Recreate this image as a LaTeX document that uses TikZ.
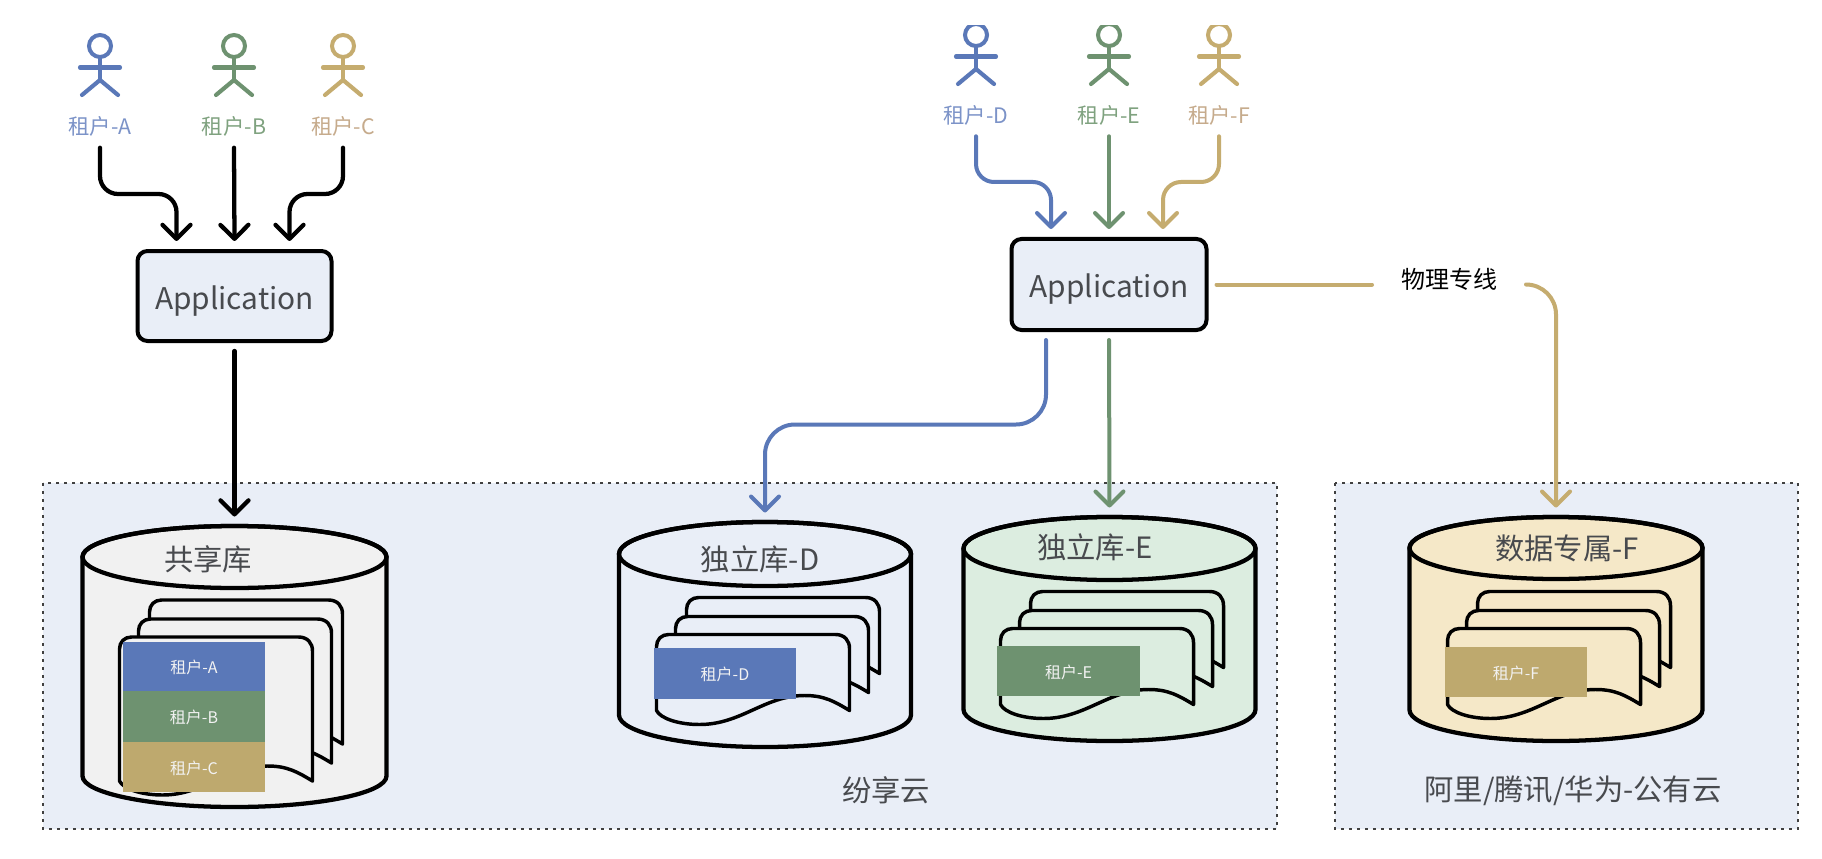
\documentclass[tikz,border=0pt]{standalone}
\usepackage{fontspec}
\setmainfont{Noto Sans CJK SC}
\usetikzlibrary{arrows.meta,calc}
\definecolor{cblue}{HTML}{5A78B8}
\definecolor{cgreen}{HTML}{6E9270}
\definecolor{cgold}{HTML}{C5AC6F}
\definecolor{cblock}{HTML}{BEA96E}
\definecolor{lblue}{HTML}{7C93C8}
\definecolor{lgreen}{HTML}{7FA27F}
\definecolor{lgold}{HTML}{C6AB8C}
\definecolor{panelfill}{HTML}{E9EEF7}
\definecolor{txtgrey}{HTML}{484A4E}
\definecolor{fillgrey}{HTML}{F1F1F1}
\definecolor{fillgreen}{HTML}{DCEDE0}
\definecolor{fillgold}{HTML}{F5E8C8}
\def\P{0.75pt}
\newcommand{\lowered}[2]{\raisebox{-#1}[0pt][0pt]{#2}}
\tikzset{
  x=0.75pt,y=-0.75pt,
  conn/.style={line width=3.2pt,line cap=round,rounded corners=18*\P,
    -{Straight Barb[length=10.5pt,width=21pt,round]}},
  cconn/.style={conn,line width=3pt},
  wire/.style={line width=3pt,line cap=round,draw=cgold},
  appbox/.style={draw=black,line width=3pt,fill=panelfill,rounded corners=10*\P,
    inner sep=0pt,outer sep=10*\P,text=txtgrey,font=\fontsize{22.4}{27}\selectfont},
  panel/.style={fill=panelfill,draw=black!75,line width=2.2pt,dash pattern=on 2pt off 4pt},
  cyl/.style={line width=3.2pt,draw=black},
  page/.style={line width=2.6pt,draw=black,line join=round},
  dbanchor/.style={inner sep=0pt,outer sep=9.5*\P},
  biglabel/.style={inner sep=0pt,text=txtgrey,font=\fontsize{22}{26}\selectfont},
  who/.style={inner sep=0pt,font=\fontsize{16}{19}\selectfont,minimum height=42*\P},
  block/.style={inner sep=0pt,text=white!90!gray,font=\fontsize{12}{14}\selectfont},
  limb/.style={line width=3.1pt,line cap=round},
}
% name, x, head y, colour
\newcommand{\stick}[4]{%
  \node[circle,draw=#4,line width=3pt,minimum size=22*\P,inner sep=0pt,outer sep=0pt] (#1) at (#2,#3) {};
  \draw[limb,draw=#4] (#1.south) -- ++(0,23) coordinate (#1hip);
  \draw[limb,draw=#4] ($(#2,#3)+(-20,21.5)$) -- ($(#2,#3)+(20,21.5)$);
  \draw[limb,draw=#4,line join=round] ($(#1hip)+(-18,15)$) -- (#1hip) -- ($(#1hip)+(18,15)$);
}
% name, cx, top, bottom, rx, ry, fill
\newcommand{\database}[7]{%
  \node[dbanchor,minimum width=2*#5*\P,minimum height={(#4-#3)*\P}] (#1) at (#2,{(#3+#4)/2}) {};
  \path[cyl,fill=#7] (#2-#5,#3+#6)
     -- (#2-#5,#4-#6) arc[start angle=180,end angle=360,x radius=#5*\P,y radius=#6*\P]
     -- (#2+#5,#3+#6) arc[start angle=0,end angle=180,x radius=#5*\P,y radius=#6*\P] -- cycle;
  \draw[cyl] (#2,#3+#6) ellipse[x radius=#5*\P,y radius=#6*\P];
}
% x, y, H, fill
\newcommand{\sheet}[4]{%
  \begin{scope}[shift={(#1,#2)}]
  \draw[page,fill=#4] (0,#3) -- (0,12) .. controls (0,5) and (5,0) .. (12,0) -- (179,0)
    .. controls (188,0) and (193,6) .. (193,14) -- (193,#3)
    .. controls (178,#3-9) and (168,#3-15) .. (148,#3-15)
    .. controls (108,#3-15) and (85,#3+14) .. (43,#3+14)
    .. controls (22,#3+14) and (4,#3+8) .. (0,#3) -- cycle;
  \end{scope}%
}
\newcommand{\sheets}[4]{%
  \sheet{#1+30}{#2-37}{#3}{#4}\sheet{#1+19}{#2-18}{#3}{#4}\sheet{#1}{#2}{#3}{#4}%
}
\begin{document}
\begin{tikzpicture}
\path[use as bounding box,fill=white] (0,0) rectangle (1822,859);

% panels
\path[panel] (43,483) rectangle (1277,829);
\path[panel] (1335,483) rectangle (1798,829);

% people, left group
\stick{pa}{100}{46}{cblue}
\stick{pb}{234}{46}{cgreen}
\stick{pc}{343}{46}{cgold}
\node[who,text=lblue] (la) at (100,126.5) {租户-A};
\node[who,text=lgreen] (lb) at (234,126.5) {租户-B};
\node[who,text=lgold] (lc) at (343,126.5) {租户-C};

% people, right group (heads cut off at the top)
\begin{scope}
\clip (900,26) rectangle (1300,100);
\stick{pd}{976}{35}{cblue}
\stick{pe}{1109}{35}{cgreen}
\stick{pf}{1219}{35}{cgold}
\end{scope}
\node[who,text=lblue] (ld) at (976,115) {租户-D};
\node[who,text=lgreen] (le) at (1109,115) {租户-E};
\node[who,text=lgold] (lf) at (1219,115) {租户-F};

% applications
\node[appbox,minimum width=194*\P,minimum height=90*\P] (app1) at (234.5,296) {\lowered{10.2pt}{Application}};
\node[appbox,minimum width=195*\P,minimum height=91*\P] (app2) at (1109,284.5) {\lowered{9.6pt}{Application}};

% databases
\database{db1}{234.5}{526}{807}{152}{31}{fillgrey}
\database{db2}{765}{522}{747}{146}{32}{panelfill}
\database{db3}{1109.5}{517}{741}{146}{31.5}{fillgreen}
\database{db4}{1556}{517}{741}{146.5}{31}{fillgold}

% pages
\sheets{119.5}{637}{144}{fillgrey}
\sheets{656.5}{634.5}{76}{panelfill}
\sheets{1000.5}{628.5}{76}{fillgreen}
\sheets{1447.5}{628.5}{76}{fillgold}

% coloured blocks
\node[block,fill=cblue,minimum width=142*\P,minimum height=49.5*\P] (ba) at (194,666.5) {\lowered{5.5pt}{租户-A}};
\node[block,fill=cgreen,minimum width=142*\P,minimum height=51*\P] (bb) at (194,716.5) {\lowered{5.5pt}{租户-B}};
\node[block,fill=cblock,minimum width=142*\P,minimum height=50*\P] (bc) at (194,767) {\lowered{5.5pt}{租户-C}};
\node[block,fill=cblue,minimum width=142*\P,minimum height=51*\P] (bd) at (725,673.5) {\lowered{5.5pt}{租户-D}};
\node[block,fill=cgreen,minimum width=143*\P,minimum height=50*\P] (be) at (1068.5,671) {\lowered{5.5pt}{租户-E}};
\node[block,fill=cblock,minimum width=142*\P,minimum height=50*\P] (bf) at (1516,672) {\lowered{5.5pt}{租户-F}};

% database and cloud labels
\node[biglabel] (t1) at (208,559) {共享库};
\node[biglabel] (t2) at (760,559) {独立库-D};
\node[biglabel] (t3) at (1095,547.5) {独立库-E};
\node[biglabel] (t4) at (1567,548) {数据专属-F};
\node[biglabel] (c1) at (886,790) {纷享云};
\node[biglabel] (c2) at (1573,790.5) {阿里/腾讯/华为-公有云};
\node[inner sep=0pt,outer sep=29*\P,text=black,font=\fontsize{18}{21}\selectfont] (wl) at (1449,279) {物理专线};

% connectors, left
\draw[conn] (la.south) |- ($(app1.north)+(-58,-47)$) -- ($(app1.north)+(-58,0)$);
\draw[conn] (lb.south) -- (app1.north);
\draw[conn] (lc.south) |- ($(app1.north)+(55,-47)$) -- ($(app1.north)+(55,0)$);
\draw[conn] (app1.south) -- (db1.north);

% connectors, right
\draw[cconn,draw=cblue] (ld.south) |- ($(app2.north)+(-58,-47)$) -- ($(app2.north)+(-58,0)$);
\draw[cconn,draw=cgreen] (le.south) -- (app2.north);
\draw[cconn,draw=cgold] (lf.south) |- ($(app2.north)+(54,-47)$) -- ($(app2.north)+(54,0)$);
\draw[cconn,draw=cblue,rounded corners=30*\P] ($(app2.south)+(-63,0)$) |- ($(db2.north)+(0,-88)$) -- (db2.north);
\draw[cconn,draw=cgreen] (app2.south) -- (db3.north);
\draw[wire] (app2.east) -- (app2.east -| wl.west);
\draw[cconn,draw=cgold,rounded corners=30*\P] (wl.east |- app2.east) -| (db4.north);
\end{tikzpicture}
\end{document}
